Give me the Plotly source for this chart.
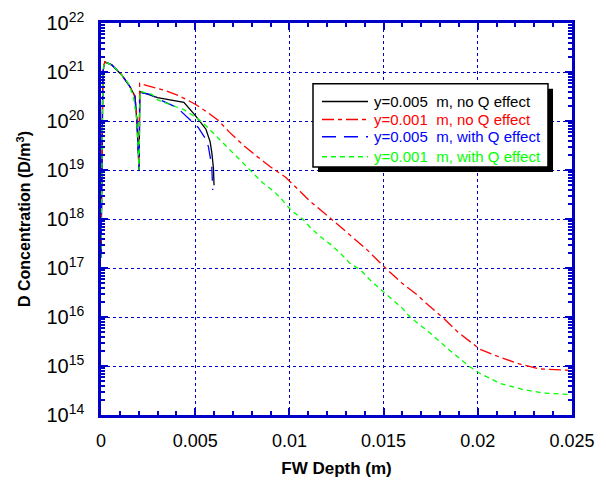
import plotly.graph_objects as go

# depth (m) and D concentration (D/m^3)
depth_black = [0, 0.0001, 0.0002, 0.00057, 0.0011, 0.00154, 0.0018, 0.0019, 0.00202,
               0.00206, 0.003, 0.0044, 0.005, 0.00557, 0.00579, 0.00588, 0.00597, 0.006]
conc_black = [1.6e17, 1.0e21, 1.6e21, 1.4e21, 8.7e20, 5.0e20, 3.2e20, 1.05e20, 1.0e19,
              4.0e20, 3.0e20, 2.4e20, 1.3e20, 6.8e19, 3.8e19, 2.3e19, 1.07e19, 4.9e18]

depth_red = [0, 0.0001, 0.0002, 0.00057, 0.0011, 0.00154, 0.0018, 0.0019, 0.00202,
             0.00205, 0.0025, 0.0034, 0.0042, 0.005, 0.0056, 0.0062, 0.0068, 0.00755,
             0.0082, 0.009, 0.0098, 0.0105, 0.0111, 0.0121, 0.0127, 0.0133, 0.0141,
             0.0148, 0.0151, 0.016, 0.0168, 0.0172, 0.0182, 0.0189, 0.0196, 0.0201,
             0.0212, 0.0222, 0.0233, 0.025]
conc_red = [1.6e17, 1.0e21, 1.6e21, 1.4e21, 8.7e20, 5.0e20, 3.2e20, 1.3e20, 1.0e19,
            5.9e20, 5.2e20, 4.2e20, 3.2e20, 2.2e20, 1.55e20, 1.05e20, 6.0e19, 3.2e19,
            2.0e19, 1.15e19, 7.1e18, 3.9e18, 2.3e18, 1.1e18, 6.9e17, 4.4e17, 2.4e17,
            1.3e17, 1.0e17, 4.8e16, 2.8e16, 2.0e16, 9.3e15, 5.1e15, 3.1e15, 2.2e15,
            1.5e15, 1.1e15, 8.7e14, 8.1e14]

depth_blue = [0, 0.0001, 0.0002, 0.00057, 0.0011, 0.00154, 0.0018, 0.0019, 0.00202,
              0.00206, 0.0026, 0.00304, 0.00402, 0.00516, 0.00552, 0.0057, 0.00588, 0.00593]
conc_blue = [1.6e17, 1.0e21, 1.6e21, 1.4e21, 8.7e20, 5.0e20, 3.2e20, 1.05e20, 1.0e19,
             3.8e20, 3.5e20, 2.8e20, 1.9e20, 7.4e19, 4.5e19, 3.0e19, 1.2e19, 3.9e18]

depth_green = [0, 0.0001, 0.0002, 0.00057, 0.00101, 0.00145, 0.00172, 0.0018, 0.0019,
               0.00202, 0.00207, 0.0027, 0.003, 0.0044, 0.0051, 0.0056, 0.0065, 0.00755,
               0.0086, 0.0092, 0.0096, 0.0101, 0.0107, 0.0111, 0.0116, 0.0122, 0.0127,
               0.0132, 0.0138, 0.0143, 0.0148, 0.0155, 0.016, 0.0164, 0.0175, 0.0185,
               0.0196, 0.0201, 0.0212, 0.0224, 0.0235, 0.025]
conc_green = [1.6e17, 1.0e21, 1.6e21, 1.4e21, 9.5e20, 5.9e20, 3.2e20, 1.95e20, 1.05e20,
              1.0e19, 4.0e20, 3.5e20, 2.7e20, 1.7e20, 1.15e20, 7.8e19, 3.5e19, 1.4e19,
              5.4e18, 3.6e18, 2.5e18, 1.5e18, 1.0e18, 6.8e17, 4.5e17, 3.0e17, 2.0e17,
              1.26e17, 8.9e16, 5.6e16, 3.8e16, 2.2e16, 1.5e16, 1.0e16, 4.6e15, 2.1e15,
              9.5e14, 7.1e14, 4.4e14, 3.3e14, 2.8e14, 2.6e14]

series_labels = ["y=0.005  m, no Q effect", "y=0.001  m, no Q effect",
                 "y=0.005  m, with Q effect", "y=0.001  m, with Q effect"]

x_ticks = [0, 0.005, 0.01, 0.015, 0.02, 0.025]
x_tick_text = ["0", "0.005", "0.01", "0.015", "0.02", "0.025"]
y_exponents = [14, 15, 16, 17, 18, 19, 20, 21, 22]

AXIS_BLUE = "#0000c8"
FONT = "Liberation Sans, Arial, sans-serif"

colours = ["black", "#ff0000", "#0000ff", "#00ff00"]
dashes = ["solid", "12px,4px,4px,4px", "14px,8px", "5px,4px"]
data = [(depth_black, conc_black), (depth_red, conc_red),
        (depth_blue, conc_blue), (depth_green, conc_green)]

fig = go.Figure()
for (xs, ys), colour, dash, label in zip(data, colours, dashes, series_labels):
    fig.add_trace(
        go.Scatter(
            x=xs,
            y=ys,
            mode="lines",
            line=dict(color=colour, width=1.3, dash=dash),
            name=label,
            showlegend=False,
        )
    )

# Boxed legend with drop shadow, drawn by hand so the row spacing matches
fig.add_shape(type="rect", xref="paper", yref="paper",
              x0=0.4607, x1=0.9597, y0=0.6199, y1=0.832,
              fillcolor="black", line=dict(width=0), layer="above")
fig.add_shape(type="rect", xref="paper", yref="paper",
              x0=0.4501, x1=0.949, y0=0.6327, y1=0.8448,
              fillcolor="white", line=dict(color="black", width=1.5), layer="above")

row_y = [0.800, 0.7538, 0.7097, 0.659]
for ry, colour, dash, label in zip(row_y, colours, dashes, series_labels):
    fig.add_shape(type="line", xref="paper", yref="paper",
                  x0=0.4692, x1=0.5669, y0=ry, y1=ry,
                  line=dict(color=colour, width=1.5, dash=dash), layer="above")
    fig.add_annotation(xref="paper", yref="paper", x=0.5754, y=ry,
                       xanchor="left", yanchor="middle", showarrow=False,
                       text=label, font=dict(size=15, color=colour))

fig.update_layout(
    width=606,
    height=487,
    margin=dict(l=93, r=42, t=15, b=80),
    paper_bgcolor="white",
    plot_bgcolor="white",
    font=dict(family=FONT, size=17, color="black"),
    showlegend=False,
    xaxis=dict(
        range=[0, 0.025],
        tickvals=x_ticks,
        ticktext=x_tick_text,
        ticks="inside", ticklen=7, tickcolor=AXIS_BLUE, tickwidth=1.5,
        showline=True, linecolor=AXIS_BLUE, linewidth=2.5, mirror="ticks",
        showgrid=True, gridcolor=AXIS_BLUE, griddash="dot", gridwidth=1,
        zeroline=False, automargin=False,
        minor=dict(dtick=0.001, ticks="inside", ticklen=4, tickcolor=AXIS_BLUE, showgrid=False),
        tickfont=dict(size=18),
        ticklabelstandoff=8,
        title=dict(text="<b>FW Depth (m)</b>", font=dict(size=17), standoff=12),
    ),
    yaxis=dict(
        type="log",
        range=[14, 22],
        tickvals=[10.0 ** e for e in y_exponents],
        ticktext=[f"10<sup>{e}</sup>" for e in y_exponents],
        ticks="inside", ticklen=7, tickcolor=AXIS_BLUE, tickwidth=1.5,
        showline=True, linecolor=AXIS_BLUE, linewidth=2.5, mirror="ticks",
        showgrid=True, gridcolor=AXIS_BLUE, griddash="dot", gridwidth=1,
        zeroline=False, automargin=False,
        minor=dict(dtick="D1", ticks="inside", ticklen=4, tickcolor=AXIS_BLUE, showgrid=False),
        tickfont=dict(size=20),
        ticklabelstandoff=10,
        title=dict(text="<b>D Concentration (D/m<sup>3</sup>)</b>", font=dict(size=16), standoff=12),
    ),
)

fig.write_html("out.html")
